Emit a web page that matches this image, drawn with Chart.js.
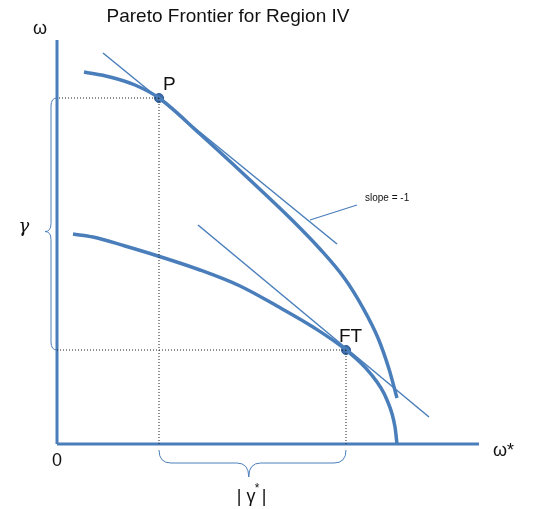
<!DOCTYPE html>
<html>
<head>
<meta charset="utf-8">
<script src="https://cdn.jsdelivr.net/npm/chart.js@4"></script>
<style>
  body { margin: 0; background: #fff; }
  canvas { display: block; }
</style>
</head>
<body>
<canvas id="myChart" width="534" height="509"></canvas>
<script>
// frontier curves (omega*, omega)
const outerX = [27, 53, 78, 102, 143, 193, 233, 263, 288, 306, 321, 332, 340];
const outerY = [372, 367, 359, 346, 310, 264, 226, 195, 165, 136, 106, 75, 46];
const innerX = [16, 36, 68, 101, 143, 183, 220, 256, 289, 313, 330, 338, 340];
const innerY = [210, 207, 198, 188, 174, 158, 138, 117, 94, 71, 44, 17, 0];

// tangent lines
const tanPX = [46, 280];
const tanPY = [391, 200];
const tanFTX = [141, 372];
const tanFTY = [219, 27];
const slopeNoteX = [253, 300];
const slopeNoteY = [224, 239];

// marked points
const pointP = [102, 346];
const pointFT = [289, 94];

// axes
const axisXMax = 422;
const axisYMax = 404;

const blue = '#4a7ebb';
const pts = (xs, ys) => xs.map((x, i) => ({x: x, y: ys[i]}));

function line(data, width, extra) {
  return Object.assign({
    data: data, showLine: true, borderColor: blue, borderWidth: width,
    pointRadius: 0, fill: false, tension: 0
  }, extra || {});
}
const dotted = {borderColor: '#222', borderWidth: 1, borderDash: [1, 2]};
const smooth = {tension: 0.4, cubicInterpolationMode: 'monotone'};

const ctx = document.getElementById("myChart").getContext("2d");

const annotations = {
  id: 'annotations',
  afterDatasetsDraw(chart) {
    const c = chart.ctx;
    const sx = chart.scales.x, sy = chart.scales.y;
    const X = v => sx.getPixelForValue(v), Y = v => sy.getPixelForValue(v);

    c.save();
    // braces
    c.strokeStyle = blue;
    c.lineWidth = 1;
    // left brace along omega axis, between P and FT heights
    let x0 = X(0), top = Y(pointP[1]), bot = Y(pointFT[1]);
    let mid = top + (bot - top) * 0.53, xv = x0 - 6, xt = x0 - 12;
    c.beginPath();
    c.moveTo(x0, top);
    c.quadraticCurveTo(xv, top, xv, top + 8);
    c.lineTo(xv, mid - 8);
    c.quadraticCurveTo(xv, mid, xt, mid);
    c.quadraticCurveTo(xv, mid, xv, mid + 8);
    c.lineTo(xv, bot - 8);
    c.quadraticCurveTo(xv, bot, x0, bot);
    c.stroke();
    // bottom brace under omega* axis, between P and FT widths
    let y0 = Y(0), l = X(pointP[0]), r = X(pointFT[0]);
    let m = l + (r - l) * 0.48, yh = y0 + 19, yt = y0 + 33;
    c.beginPath();
    c.moveTo(l, y0 + 6);
    c.quadraticCurveTo(l, yh, l + 12, yh);
    c.lineTo(m - 12, yh);
    c.quadraticCurveTo(m, yh, m, yt);
    c.quadraticCurveTo(m, yh, m + 12, yh);
    c.lineTo(r - 12, yh);
    c.quadraticCurveTo(r, yh, r, y0 + 6);
    c.stroke();

    // texts
    c.fillStyle = '#111';
    c.textBaseline = 'alphabetic';
    c.textAlign = 'center';
    c.font = '19px "Liberation Sans", Arial, sans-serif';
    c.fillText('Pareto Frontier for Region IV', 228, 22);
    c.font = '18px "Liberation Sans", Arial, sans-serif';
    c.fillText('ω', X(0) - 17, Y(axisYMax) - 6);
    c.fillText('0', X(0), Y(0) + 22);
    c.textAlign = 'left';
    c.fillText('ω*', X(axisXMax) + 14, Y(0) + 12);
    c.font = '19px "Liberation Sans", Arial, sans-serif';
    c.fillText('P', X(pointP[0]) + 4, Y(pointP[1]) - 8);
    c.fillText('FT', X(pointFT[0]) - 7, Y(pointFT[1]) - 8);
    c.font = '10px "Liberation Sans", Arial, sans-serif';
    c.fillText('slope = -1', X(slopeNoteX[1]) + 8, Y(slopeNoteY[1]) - 4);
    c.font = 'italic 18px "DejaVu Serif", serif';
    c.textAlign = 'center';
    c.fillText('γ', 24, Y((pointP[1] + pointFT[1]) / 2) + 8);
    // | γ* | under the bottom brace
    const bx = l + (r - l) * 0.48 - 12, by = Y(0) + 58;
    c.textAlign = 'left';
    c.font = '18px "Liberation Sans", Arial, sans-serif';
    c.fillText('| γ', bx, by);
    c.fillText('|', bx + 25, by);
    c.font = '12px "Liberation Sans", Arial, sans-serif';
    c.fillText('*', bx + 18, by - 10);
    c.restore();
  }
};

const chart = new Chart(ctx, {
  type: "scatter",
  data: {
    datasets: [
      line([{x: pointP[0], y: pointP[1]}, {x: 0, y: pointP[1]}], 1, dotted),
      line([{x: pointP[0], y: pointP[1]}, {x: pointP[0], y: 0}], 1, dotted),
      line([{x: pointFT[0], y: pointFT[1]}, {x: 0, y: pointFT[1]}], 1, dotted),
      line([{x: pointFT[0], y: pointFT[1]}, {x: pointFT[0], y: 0}], 1, dotted),
      line([{x: 0, y: 0}, {x: 0, y: axisYMax}], 3),
      line([{x: 0, y: 0}, {x: axisXMax, y: 0}], 3),
      line(pts(outerX, outerY), 3.5, smooth),
      line(pts(innerX, innerY), 3.5, smooth),
      line(pts(tanPX, tanPY), 1.5),
      line(pts(tanFTX, tanFTY), 1.5),
      line(pts(slopeNoteX, slopeNoteY), 1.2),
      {
        data: [{x: pointP[0], y: pointP[1]}, {x: pointFT[0], y: pointFT[1]}],
        pointRadius: 4.5, backgroundColor: '#3d6dad', borderColor: '#2d5a92', borderWidth: 1
      }
    ]
  },
  options: {
    responsive: false,
    animation: false,
    layout: {padding: 0, autoPadding: false},
    plugins: {legend: {display: false}, tooltip: {enabled: false}},
    scales: {
      x: {type: 'linear', min: -57, max: 477, display: false},
      y: {type: 'linear', min: -65, max: 444, display: false}
    },
    datasets: {scatter: {clip: false}}
  },
  plugins: [annotations]
});
</script>
</body>
</html>
